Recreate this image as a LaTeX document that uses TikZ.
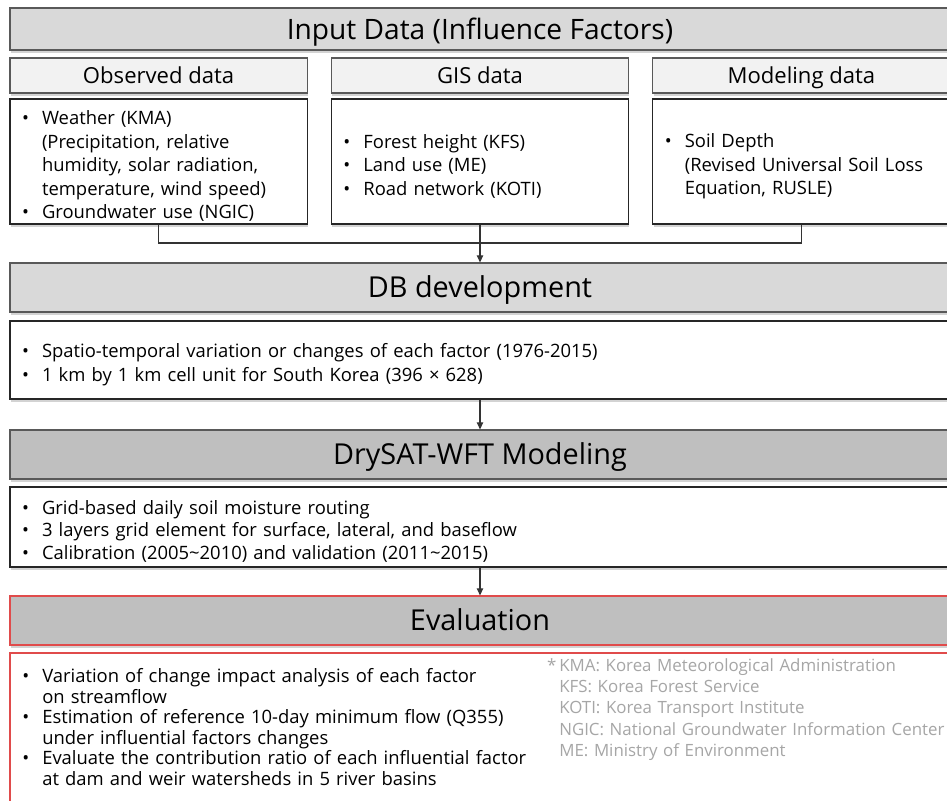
\documentclass[tikz,border=0pt]{standalone}
\usepackage{fontspec}
\setmainfont{Open Sans}
\usetikzlibrary{arrows.meta,shadows}
\definecolor{barline}{HTML}{595959}
\definecolor{cardline}{HTML}{262626}
\definecolor{linkline}{HTML}{333333}
\definecolor{barfill}{HTML}{D9D9D9}
\definecolor{tabfill}{HTML}{F2F2F2}
\definecolor{stagefill}{HTML}{BFBFBF}
\definecolor{alertred}{HTML}{E04B4B}
\definecolor{notegray}{HTML}{A6A6A6}
\newcommand{\bitem}{\par\hangindent=0.5cm\hangafter=1\noindent\makebox[0.5cm][l]{\textbullet}}

\begin{document}
\begin{tikzpicture}[
  bar/.style={draw=barline,line width=0.8pt,minimum width=23.5cm,minimum height=1.225cm,
    inner sep=0pt,text height=14.6pt,text depth=0pt,font=\fontsize{20.5}{22}\selectfont,
    drop shadow={shadow xshift=0.6pt,shadow yshift=-1.8pt,opacity=0.35}},
  tab/.style={bar,fill=tabfill,minimum width=7.43cm,minimum height=0.875cm,
    text height=11.2pt,font=\fontsize{15.7}{17}\selectfont},
  card/.style={draw=cardline,line width=0.8pt,fill=white,align=left,inner xsep=0.3cm,
    inner ysep=0pt,text width=6.83cm,minimum height=3.125cm,font=\fontsize{13.1}{16.7}\selectfont,
    drop shadow={shadow xshift=0.6pt,shadow yshift=-1.8pt,opacity=0.35}},
  widecard/.style={card,text width=22.9cm,minimum height=1.95cm},
  link/.style={draw=linkline,line width=0.8pt},
  flow/.style={link,-{Triangle[length=5pt,width=4.5pt]}}]
\useasboundingbox (0,0) rectangle (23.675,-20);
\clip (0,0) rectangle (23.675,-20);

\node[bar,fill=barfill,minimum height=1.05cm,text height=14.3pt,font=\fontsize{20}{22}\selectfont]
  (input) at (12,-0.725) {Input Data (Influence Factors)};
\node[tab] (obshead) at (3.965,-1.8875) {Observed data};
\node[tab] (gishead) at (12,-1.8875) {GIS data};
\node[tab] (modhead) at (20.035,-1.8875) {Modeling data};
\node[card] (obsbody) at (3.965,-4.0375)
  {\bitem Weather (KMA)\newline(Precipitation, relative\newline humidity, solar radiation,\newline
   temperature, wind speed)\bitem Groundwater use (NGIC)\par};
\node[card] (gisbody) at (12,-4.0375)
  {\bitem Forest height (KFS)\bitem Land use (ME)\bitem Road network (KOTI)\par};
\node[card] (modbody) at (20.035,-4.0375)
  {\bitem Soil Depth\newline(Revised Universal Soil Loss\newline Equation, RUSLE)\par};

\node[bar,fill=barfill] (dbhead) at (12,-7.1875) {DB development};
\node[widecard] (dbbody) at (12,-9.0)
  {\bitem Spatio-temporal variation or changes of each factor (1976-2015)
   \bitem 1 km by 1 km cell unit for South Korea (396 × 628)\par};

\node[bar,fill=stagefill] (modelhead) at (12,-11.3625) {DrySAT-WFT Modeling};
\node[widecard,minimum height=2cm,font=\fontsize{13.1}{16.2}\selectfont] (modelbody) at (12,-13.175)
  {\bitem Grid-based daily soil moisture routing
   \bitem 3 layers grid element for surface, lateral, and baseflow
   \bitem Calibration (2005\textasciitilde 2010) and validation (2011\textasciitilde 2015)\par};

\node[bar,fill=stagefill,draw=alertred] (evalhead) at (12,-15.5125) {Evaluation};
\node[widecard,draw=alertred,minimum height=4.075cm] (evalbody) at (12,-18.3625) {};
\node[anchor=west,align=left,text width=13cm,inner xsep=0.3cm,font=\fontsize{13.1}{14.6}\selectfont]
  (evaltext) at (0.25,-18.1)
  {\bitem Variation of change impact analysis of each factor\newline on streamflow
   \bitem Estimation of reference 10-day minimum flow (Q355)\newline under influential factors changes
   \bitem Evaluate the contribution ratio of each influential factor\newline at dam and weir watersheds in 5 river basins\par};
\node[anchor=west,align=left,text width=10cm,inner sep=0pt,text=notegray,font=\fontsize{12}{15.1}\selectfont]
  (notes) at (13.975,-17.74)
  {\llap{*\,}KMA: Korea Meteorological Administration\\KFS: Korea Forest Service\\
   KOTI: Korea Transport Institute\\NGIC: National Groundwater Information Center\\
   ME: Ministry of Environment};

\coordinate (merge) at (12,-6.075);
\draw[link] (obsbody.south) |- (merge) -| (modbody.south);
\draw[flow] (gisbody.south) -- (dbhead.north);
\draw[flow] (dbbody.south) -- (modelhead.north);
\draw[flow] (modelbody.south) -- (evalhead.north);
\end{tikzpicture}
\end{document}
